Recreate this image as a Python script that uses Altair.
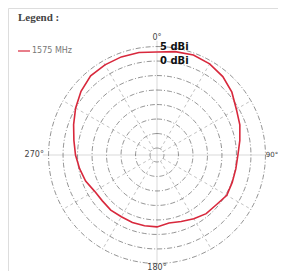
import altair as alt
import pandas as pd

# ---- data ----
angles = [0, 10, 20, 30, 40, 50, 60, 70, 80, 90, 100, 110, 120, 130, 140, 150, 160, 170,
          180, 190, 200, 210, 220, 230, 240, 250, 260, 270, 280, 290, 300, 310, 320, 330, 340, 350]
gain_1575 = [3.1, 3.8, 4.3, 3.9, 2.9, 1.3, -0.8, -2.0, -3.4, -4.5, -4.8, -4.8, -4.6, -5.7, -6.0, -7.0, -8.0, -8.6,
             -7.6, -7.6, -7.6, -7.8, -7.6, -7.8, -7.5, -6.2, -5.3, -4.3, -3.3, -1.8, 0.0, 1.8, 3.2, 3.5, 3.6, 3.5]
ring_levels = [5, 0, -5, -10, -15, -20, -25, -30]
ring_labels = ["5 dBi", "0 dBi"]
spoke_angles = [30, 60, 120, 150, 210, 240, 300, 330]
axis_angles = [0, 90, 180, 270]
angle_labels = ["0°", "90°", "180°", "270°"]
angle_align = ["center", "left", "center", "right"]
angle_baseline = ["bottom", "middle", "alphabetic", "middle"]
angle_label_gain = [6.6, 5.1, 7.3, 6.6]
angle_label_size = [8, 7, 8, 8]
series_name = "1575 MHz"

# ---- layout constants ----
R0 = 32.4          # radial offset (gain + R0 = radius in units)
K = 2.9            # pixels per unit
W, H = 270, 263
CX, CY = 149, 147
xdom = [-CX / K, (W - CX) / K]
ydom = [-(H - CY) / K, CY / K]

X = alt.X("x:Q", scale=alt.Scale(domain=xdom, nice=False, zero=False), axis=None)
Y = alt.Y("y:Q", scale=alt.Scale(domain=ydom, nice=False, zero=False), axis=None)

calc = dict(
    x=f"(datum.g + {R0}) * sin(datum.a * PI / 180)",
    y=f"(datum.g + {R0}) * cos(datum.a * PI / 180)",
)

# rings
grid_a = list(range(0, 361, 3))
rings = pd.DataFrame([{"lvl": l, "a": a, "g": l} for l in ring_levels for a in grid_a])
ring_layer = alt.Chart(rings).transform_calculate(**calc).mark_line(
    color="#666", strokeWidth=0.7, strokeDash=[5, 2, 1, 2]
).encode(x=X, y=Y, detail="lvl:N", order="a:Q")

# spokes
spokes = pd.DataFrame([{"s": s, "a": s, "g": g, "i": i}
                       for s in spoke_angles for i, g in enumerate([ring_levels[-1], ring_levels[0]])])
spoke_layer = alt.Chart(spokes).transform_calculate(**calc).mark_line(
    color="#999", strokeWidth=0.6, strokeDash=[3, 3]
).encode(x=X, y=Y, detail="s:N", order="i:Q")

# cardinal axes
axes_df = pd.DataFrame([{"s": s, "a": s, "g": g, "i": i}
                        for s in axis_angles for i, g in enumerate([-R0, 7.0])])
axis_layer = alt.Chart(axes_df).transform_calculate(**calc).mark_line(
    color="#cfcfcf", strokeWidth=0.8
).encode(x=X, y=Y, detail="s:N", order="i:Q")

# angle labels
lab_layers = []
for a, t, al, bl, lg, fs in zip(axis_angles, angle_labels, angle_align, angle_baseline,
                                angle_label_gain, angle_label_size):
    df = pd.DataFrame({"a": [a], "g": [lg], "t": [t]})
    lab_layers.append(alt.Chart(df).transform_calculate(**calc).mark_text(
        align=al, baseline=bl, fontSize=fs, color="#444", font="DejaVu Sans"
    ).encode(x=X, y=Y, text="t:N"))

# dBi labels
dbi = pd.DataFrame({"a": [0, 0], "g": ring_levels[:2], "t": ring_labels})
dbi_layer = alt.Chart(dbi).transform_calculate(**calc).mark_text(
    align="left", baseline="middle", dx=3, fontSize=10, fontWeight="bold", color="#111", font="DejaVu Sans"
).encode(x=X, y=Y, text="t:N")

# series
ser = pd.DataFrame({"a": angles + [angles[0]], "g": gain_1575 + [gain_1575[0]],
                    "i": list(range(len(angles) + 1))})
ser_layer = alt.Chart(ser).transform_calculate(**calc).mark_line(
    color="#d8283c", strokeWidth=1.6
).encode(x=X, y=Y, order="i:Q")

# legend
leg_df = pd.DataFrame({"t": ["Legend :"]})
leg_title = alt.Chart(leg_df).mark_text(
    align="left", baseline="middle", fontSize=11, fontWeight="bold", color="#444", font="Liberation Serif"
).encode(x=alt.value(10), y=alt.value(10), text="t:N")
leg_line = alt.Chart(pd.DataFrame({"t": [series_name]})).mark_rule(
    color="#d8283c", strokeWidth=1.2
).encode(x=alt.value(10), x2=alt.value(22), y=alt.value(43))
leg_text = alt.Chart(pd.DataFrame({"t": [series_name]})).mark_text(
    align="left", baseline="middle", fontSize=8, color="#777", font="DejaVu Sans"
).encode(x=alt.value(24), y=alt.value(43), text="t:N")

chart = alt.layer(
    axis_layer, ring_layer, spoke_layer, ser_layer, dbi_layer, *lab_layers,
    leg_title, leg_line, leg_text
).properties(
    width=W, height=H, padding=0, autosize=alt.AutoSizeParams(type="none")
).configure_view(stroke=None).configure(background="white")

chart.save("out.html", embed_options={"renderer": "svg", "actions": False})
